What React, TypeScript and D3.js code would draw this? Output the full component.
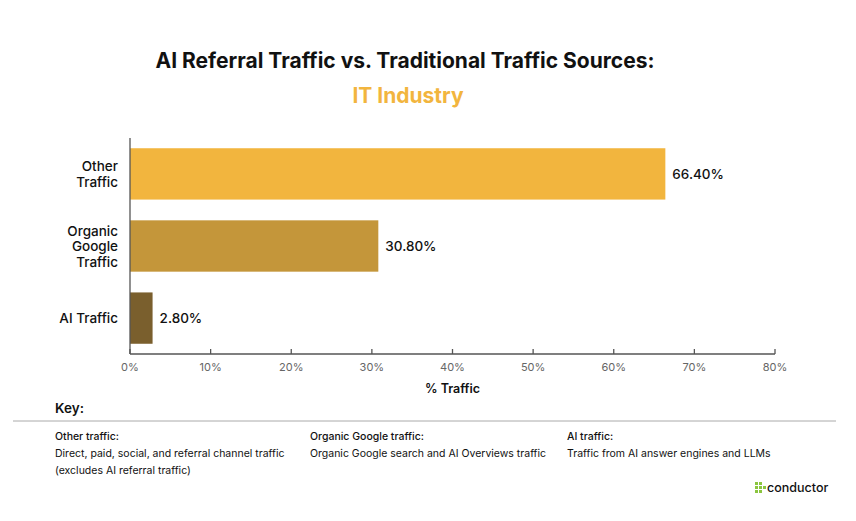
import React from 'react';
import * as d3 from 'd3';

const categories = ['Other Traffic', 'Organic Google Traffic', 'AI Traffic'];
const categoryLines = [['Other', 'Traffic'], ['Organic', 'Google', 'Traffic'], ['AI Traffic']];
const values = [66.4, 30.8, 2.8];
const barColors = ['#F2B53E', '#C4963A', '#7A5F2D'];
const xTicks = [0, 10, 20, 30, 40, 50, 60, 70, 80];

const keyTitles = ['Other traffic:', 'Organic Google traffic:', 'AI traffic:'];
const keyTexts = [
  ['Direct, paid, social, and referral channel traffic', '(excludes AI referral traffic)'],
  ['Organic Google search and AI Overviews traffic'],
  ['Traffic from AI answer engines and LLMs'],
];

const W = 856;
const H = 521;
const FONT = 'Inter, "Noto Sans", sans-serif';

export default function App() {
  const x = d3.scaleLinear([0, 80], [130, 775]);
  const y = d3.scaleBand(categories, [138, 354]).paddingInner(0.288).paddingOuter(0.142);
  const keyX = [55, 310, 567];

  return (
    <svg width={W} height={H} style={{ position: 'absolute', left: 0, top: 0, background: '#fff' }} fontFamily={FONT}>
      <text x={405} y={68} textAnchor="middle" fontSize={21} fontWeight={700} fill="#111">
        AI Referral Traffic vs. Traditional Traffic Sources:
      </text>
      <text x={408} y={103} textAnchor="middle" fontSize={21} fontWeight={700} fill="#F2B53E">
        IT Industry
      </text>

      {/* bars */}
      {categories.map((c, i) => (
        <g key={c}>
          <rect x={x(0)} y={y(c)} width={x(values[i]) - x(0)} height={y.bandwidth()} fill={barColors[i]} />
          <text x={x(values[i]) + 7} y={y(c)! + y.bandwidth() / 2 + 5} fontSize={13.5} fontWeight={500} fill="#111">
            {values[i].toFixed(2)}%
          </text>
          {categoryLines[i].map((ln, j) => (
            <text
              key={ln}
              x={118}
              y={y(c)! + y.bandwidth() / 2 + 5 + (j - (categoryLines[i].length - 1) / 2) * 15.5}
              textAnchor="end"
              fontSize={13.5}
              fontWeight={500}
              fill="#111"
            >
              {ln}
            </text>
          ))}
        </g>
      ))}

      {/* axes */}
      <line x1={x(0)} x2={x(0)} y1={138} y2={354} stroke="#555" strokeWidth={1.3} />
      <line x1={x(0)} x2={x(80)} y1={354} y2={354} stroke="#555" strokeWidth={1.3} />
      {xTicks.map((t) => (
        <g key={t}>
          <line x1={x(t)} x2={x(t)} y1={349} y2={354} stroke="#555" strokeWidth={1.3} />
          <text x={x(t)} y={371} textAnchor="middle" fontSize={11} fill="#666">
            {t}%
          </text>
        </g>
      ))}
      <text x={(x(0) + x(80)) / 2} y={393} textAnchor="middle" fontSize={12.5} fontWeight={600} fill="#111">
        % Traffic
      </text>

      {/* key */}
      <text x={55} y={413} fontSize={13.5} fontWeight={600} fill="#111">
        Key:
      </text>
      <line x1={13} x2={836} y1={421} y2={421} stroke="#aaa" strokeWidth={1} />
      {keyTitles.map((k, i) => (
        <g key={k}>
          <text x={keyX[i]} y={440} fontSize={10.5} fontWeight={500} fill="#111">
            {k}
          </text>
          {keyTexts[i].map((ln, j) => (
            <text key={ln} x={keyX[i]} y={457 + j * 17} fontSize={10.5} fill="#111">
              {ln}
            </text>
          ))}
        </g>
      ))}

      {/* logo */}
      <g transform="translate(755,482)">
        {[
          [0, 0], [4, 0], [0, 4], [4, 4], [8, 4], [0, 8], [4, 8],
        ].map(([a, b], i) => (
          <rect key={i} x={a} y={b} width={3} height={3} fill="#8BC53F" />
        ))}
      </g>
      <text x={767} y={492} fontSize={12.5} fontWeight={500} fill="#111">
        conductor
      </text>
    </svg>
  );
}
